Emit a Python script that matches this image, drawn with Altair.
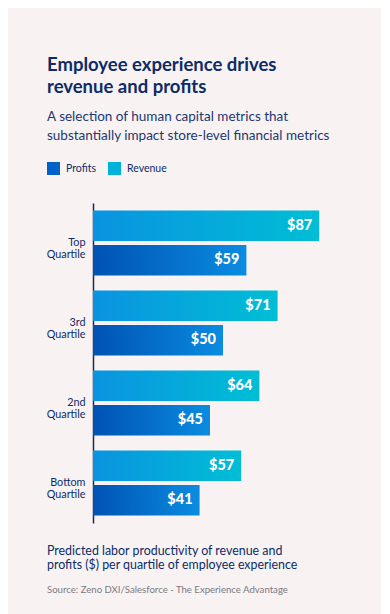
import altair as alt
import pandas as pd

quartiles = ["Top Quartile", "3rd Quartile", "2nd Quartile", "Bottom Quartile"]
revenue = [87, 71, 64, 57]
profits = [59, 50, 45, 41]
series = ["Revenue", "Profits"]
legend_order = ["Profits", "Revenue"]

heading = ["Employee experience drives", "revenue and profits"]
subheading = ["A selection of human capital metrics that",
              "substantially impact store-level financial metrics"]
footnote = ["Predicted labor productivity of revenue and",
            "profits ($) per quartile of employee experience"]
source = "Source: Zeno DXI/Salesforce - The Experience Advantage"

rows = []
for q, r, p in zip(quartiles, revenue, profits):
    rows.append({"quartile": q, "series": "Revenue", "value": r, "label": f"${r}"})
    rows.append({"quartile": q, "series": "Profits", "value": p, "label": f"${p}"})
df = pd.DataFrame(rows)

NAVY = "#0d2b66"
FONT = "Lato"

def grad(c0, c1):
    return alt.Gradient(gradient="linear",
                        stops=[alt.GradientStop(color=c0, offset=0),
                               alt.GradientStop(color=c1, offset=1)],
                        x1=0, x2=1, y1=0, y2=0)

base = alt.Chart(df).encode(
    y=alt.Y("quartile:N", sort=quartiles,
            scale=alt.Scale(paddingInner=0.1875, paddingOuter=0.09375),
            axis=alt.Axis(title=None, ticks=False, grid=False,
                          labelExpr="split(datum.label, ' ')",
                          labelFont=FONT, labelFontSize=10.8, labelColor=NAVY,
                          labelLineHeight=12, labelPadding=8,
                          domainColor="#1b2a52", domainWidth=1.5)),
    yOffset=alt.YOffset("series:N", sort=series,
                        scale=alt.Scale(domain=series, paddingInner=0.12, paddingOuter=0)),
    x=alt.X("value:Q", scale=alt.Scale(domain=[0, 100]), axis=None),
)

rev = base.transform_filter("datum.series == 'Revenue'").mark_bar(
    color=grad("#0a93e0", "#00bed5"), cornerRadius=0)
prof = base.transform_filter("datum.series == 'Profits'").mark_bar(
    color=grad("#0052b4", "#0a8ce0"), cornerRadius=0)
txt = base.mark_text(align="right", baseline="middle", dx=-7, color="white",
                     font=FONT, fontSize=14.5, fontWeight=900).encode(text="label:N")

leg = base.mark_point(shape="square", filled=True, opacity=0).encode(
    color=alt.Color("series:N",
                    scale=alt.Scale(domain=legend_order, range=["#0062c8", "#00b2da"]),
                    legend=alt.Legend(title=None, orient="none", direction="horizontal",
                                      legendX=-46, legendY=-41,
                                      symbolType="square", symbolSize=169,
                                      symbolOpacity=1, symbolStrokeWidth=0,
                                      labelFont=FONT, labelFontSize=10.5, labelColor=NAVY,
                                      labelOffset=6, columnPadding=12)))

inner = alt.layer(rev, prof, txt, leg).properties(
    width=260, height=320,
    title=alt.TitleParams(text=footnote, subtitle=source, orient="bottom",
                          anchor="start", frame="group", dx=-46, offset=22,
                          font=FONT, fontSize=12.4, fontWeight="normal", color=NAVY,
                          lineHeight=14, subtitleFont=FONT, subtitleFontSize=9.6,
                          subtitleColor="#7a7a80", subtitlePadding=14))

chart = alt.vconcat(inner).properties(
    title=alt.TitleParams(text=heading, subtitle=subheading, anchor="start",
                          frame="group", dx=-46, offset=20,
                          font=FONT, fontSize=18.5, fontWeight="bold", color=NAVY,
                          lineHeight=22, subtitleFont=FONT, subtitleFontSize=13.5,
                          subtitleColor="#1c3870", subtitleLineHeight=19,
                          subtitlePadding=13),
    background="#f8f2f3",
    padding={"left": 38, "top": 48, "right": 28, "bottom": 20},
).configure_view(stroke=None).configure_concat(spacing=0)

chart.save("out.html", embed_options={"renderer": "svg", "actions": False})
